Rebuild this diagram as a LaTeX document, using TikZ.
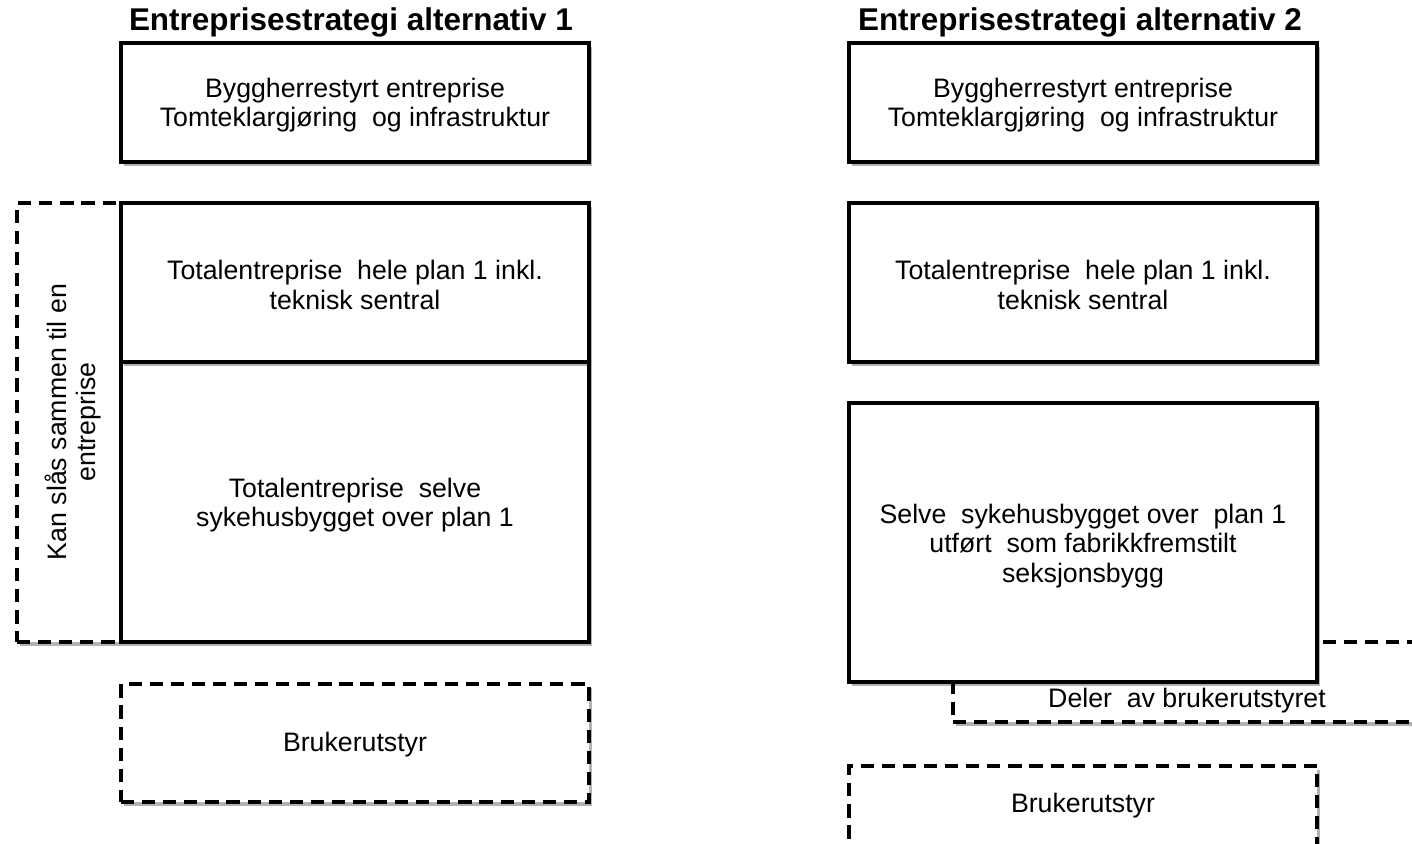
\documentclass[tikz,border=0pt]{standalone}
\usepackage{fontspec}
\setmainfont{Liberation Sans}
\usetikzlibrary{shadows}
\tikzset{
  box/.style={draw=black, line width=2.2pt, fill=white, inner sep=0pt, align=center,
    drop shadow={shadow xshift=1.5pt, shadow yshift=-2.5pt, opacity=0.3, fill=black}},
  dbox/.style={box, dash pattern=on 7.5pt off 4.5pt},
  txt/.style={inner sep=0pt, align=center, font=\fontsize{15.2}{16.8}\selectfont},
  ttl/.style={inner sep=0pt, font=\fontsize{17.9}{20}\selectfont\bfseries}
}
\begin{document}
\begin{tikzpicture}[x=0.02cm, y=-0.02cm]
\useasboundingbox (0,0) rectangle (1412,843);
\clip (0,0) rectangle (1412,843);
% Alternative 1
\node[ttl] (t1) at (351,22) {Entreprisestrategi alternativ 1};
\node[dbox, minimum width=2.08cm, minimum height=8.78cm] (kan) at (69,422.5) {};
\node[txt, rotate=90] (kantxt) at (73,422) {Kan slås sammen til en\\entreprise};
\node[box, minimum width=9.36cm, minimum height=2.38cm] (a1) at (355,102.5) {};
\node[txt] (a1t) at (355,105) {Byggherrestyrt entreprise\\Tomteklargjøring\ \ og infrastruktur};
\node[box, minimum width=9.36cm, minimum height=5.6cm] (a3) at (355,502) {};
\node[txt] (a3t) at (355,505) {Totalentreprise\ \ selve\\sykehusbygget over plan 1};
\node[box, minimum width=9.36cm, minimum height=3.18cm] (a2) at (355,282.5) {};
\node[txt] (a2t) at (355,285) {Totalentreprise\ \ hele plan 1 inkl.\\teknisk sentral};
\node[dbox, minimum width=9.36cm, minimum height=2.36cm] (a4) at (355,743) {};
\node[txt] (a4t) at (355,745) {Brukerutstyr};
% Alternative 2
\node[ttl] (t2) at (1080,22) {Entreprisestrategi alternativ 2};
\node[box, minimum width=9.36cm, minimum height=2.38cm] (b1) at (1083,102.5) {};
\node[txt] (b1t) at (1083,105) {Byggherrestyrt entreprise\\Tomteklargjøring\ \ og infrastruktur};
\node[box, minimum width=9.36cm, minimum height=3.18cm] (b2) at (1083,282.5) {};
\node[txt] (b2t) at (1083,285) {Totalentreprise\ \ hele plan 1 inkl.\\teknisk sentral};
\node[dbox, minimum width=10.2cm, minimum height=1.6cm] (b4) at (1208,682) {};
\node[txt] (b4t) at (1187,701) {Deler\ \ av brukerutstyret};
\node[box, minimum width=9.36cm, minimum height=5.58cm] (b3) at (1083,542.5) {};
\node[txt] (b3t) at (1083,546) {Selve\ \ sykehusbygget over\ \ plan 1\\utført\ \ som fabrikkfremstilt\\seksjonsbygg};
\node[dbox, minimum width=9.36cm, minimum height=1.6cm] (b5) at (1083,806) {};
\node[txt] (b5t) at (1083,806) {Brukerutstyr};
\end{tikzpicture}
\end{document}
